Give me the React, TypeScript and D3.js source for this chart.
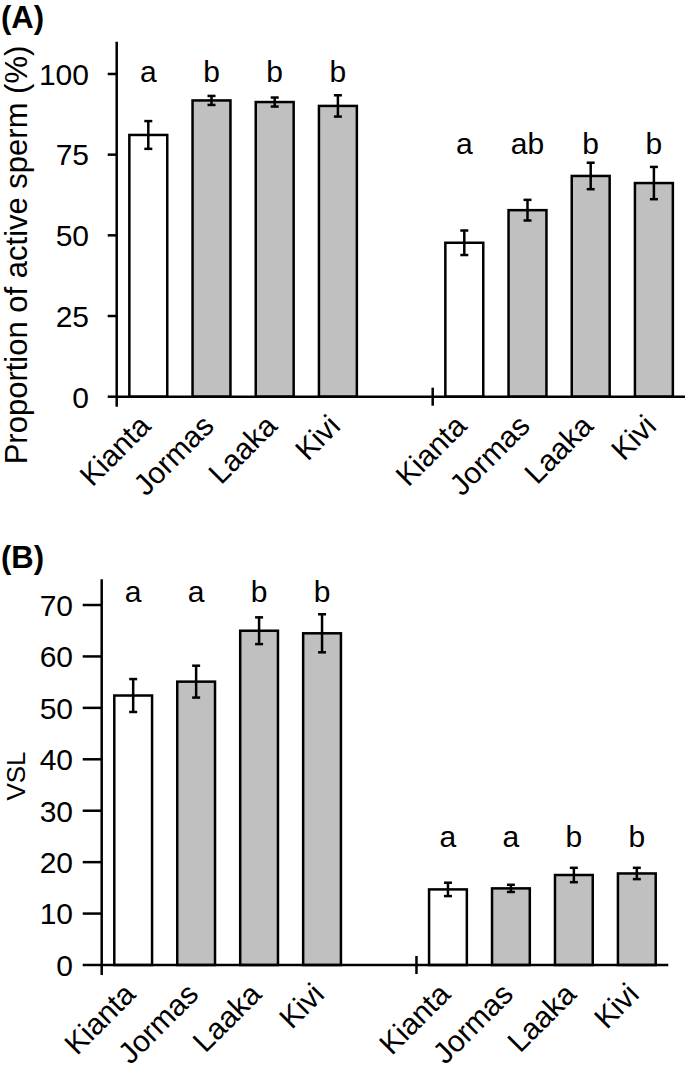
import React from "react";
import * as d3 from "d3";

// sites, in the order they appear in each group
const sites = ["Kianta", "Jormas", "Laaka", "Kivi"];

// (A) proportion of active sperm (%)
const activeLeft = [81.1, 91.8, 91.3, 90.1];
const activeLeftErr = [4.3, 1.4, 1.4, 3.3];
const activeRight = [47.7, 57.8, 68.4, 66.2];
const activeRightErr = [3.8, 3.2, 4.1, 5.0];
const activeLeftLetters = ["a", "b", "b", "b"];
const activeRightLetters = ["a", "ab", "b", "b"];
const activeTicks = [0, 25, 50, 75, 100];

// (B) VSL
const vslLeft = [52.4, 55.1, 65.0, 64.5];
const vslLeftErr = [3.2, 3.1, 2.6, 3.7];
const vslRight = [14.7, 14.9, 17.5, 17.8];
const vslRightErr = [1.3, 0.7, 1.4, 1.1];
const vslLeftLetters = ["a", "a", "b", "b"];
const vslRightLetters = ["a", "a", "b", "b"];
const vslTicks = [0, 10, 20, 30, 40, 50, 60, 70];

const FONT = "'Liberation Sans', Arial, sans-serif";
const GREY = "#c0c0c0";
const FS = 30;
const SW = 2.5;

// slot keys: 4 bars, an empty slot, 4 bars
const slots = [
  ...sites.map((s) => "L-" + s),
  "gap",
  ...sites.map((s) => "R-" + s),
];

interface PanelProps {
  tag: string;
  tagY: number;
  title: string;
  titleX: number;
  titleY: number;
  titleSize: number;
  yMax: number;
  ticks: number[];
  left: number[];
  leftErr: number[];
  right: number[];
  rightErr: number[];
  leftLetters: string[];
  rightLetters: string[];
  leftLetterAt: number;
  rightLetterAt: number;
  x0: number;
  x1: number;
  yTop: number;
  yBottom: number;
  tickLen: number;
  labelX: number;
}

const Panel: React.FC<PanelProps> = (p) => {
  const x = d3
    .scaleBand<string>()
    .domain(slots)
    .range([p.x0, p.x1])
    .paddingInner(0.4)
    .paddingOuter(0.2);
  const y = d3.scaleLinear().domain([0, p.yMax]).range([p.yBottom, p.yTop]);
  const step = x.step();
  const bw = x.bandwidth();

  const bars = [
    ...sites.map((s, i) => ({
      key: "L-" + s,
      name: s,
      v: p.left[i],
      e: p.leftErr[i],
      letter: p.leftLetters[i],
      ly: p.leftLetterAt,
      fill: i === 0 ? "#fff" : GREY,
    })),
    ...sites.map((s, i) => ({
      key: "R-" + s,
      name: s,
      v: p.right[i],
      e: p.rightErr[i],
      letter: p.rightLetters[i],
      ly: p.rightLetterAt,
      fill: i === 0 ? "#fff" : GREY,
    })),
  ];

  const base = y(0);
  const gapTick = p.x0 + step * 5;

  return (
    <g fontFamily={FONT}>
      <text x={1} y={p.tagY} fontSize={31} fontWeight="bold">
        {p.tag}
      </text>
      <text
        transform={`translate(${p.titleX},${p.titleY}) rotate(-90)`}
        textAnchor="middle"
        fontSize={p.titleSize}
      >
        {p.title}
      </text>

      {/* y axis */}
      <line x1={p.x0} x2={p.x0} y1={p.yTop} y2={base + 10} stroke="#000" strokeWidth={SW} />
      {p.ticks.map((t) => (
        <g key={t}>
          <line
            x1={p.x0 - p.tickLen}
            x2={p.x0}
            y1={y(t)}
            y2={y(t)}
            stroke="#000"
            strokeWidth={SW}
          />
          <text x={p.labelX} y={y(t)} dy="0.36em" textAnchor="end" fontSize={FS}>
            {t}
          </text>
        </g>
      ))}

      {/* bars */}
      {bars.map((b) => {
        const cx = (x(b.key) as number) + bw / 2;
        return (
          <g key={b.key}>
            <rect
              x={x(b.key)}
              y={y(b.v)}
              width={bw}
              height={base - y(b.v)}
              fill={b.fill}
              stroke="#000"
              strokeWidth={SW}
            />
            <line x1={cx} x2={cx} y1={y(b.v + b.e)} y2={y(b.v - b.e)} stroke="#000" strokeWidth={SW} />
            <line x1={cx - 4} x2={cx + 4} y1={y(b.v + b.e)} y2={y(b.v + b.e)} stroke="#000" strokeWidth={SW} />
            <line x1={cx - 4} x2={cx + 4} y1={y(b.v - b.e)} y2={y(b.v - b.e)} stroke="#000" strokeWidth={SW} />
            <text x={cx} y={y(b.ly)} textAnchor="middle" fontSize={FS}>
              {b.letter}
            </text>
            <text
              transform={`translate(${cx + 4},${base + 31}) rotate(-45)`}
              textAnchor="end"
              fontSize={FS}
            >
              {b.name}
            </text>
          </g>
        );
      })}

      {/* x axis */}
      <line x1={p.x0} x2={p.x1} y1={base} y2={base} stroke="#000" strokeWidth={SW} />
      <line x1={gapTick} x2={gapTick} y1={base - 9} y2={base + 9} stroke="#000" strokeWidth={SW} />
    </g>
  );
};

export default function App() {
  return (
    <>
      <style>{`body{margin:0;background:#fff}`}</style>
      <svg width={685} height={1073} style={{ display: "block" }}>
        <rect width={685} height={1073} fill="#fff" />
        <Panel
          tag="(A)"
          tagY={28}
          title="Proportion of active sperm (%)"
          titleX={27}
          titleY={255}
          titleSize={31}
          yMax={110}
          ticks={activeTicks}
          left={activeLeft}
          leftErr={activeLeftErr}
          right={activeRight}
          rightErr={activeRightErr}
          leftLetters={activeLeftLetters}
          rightLetters={activeRightLetters}
          leftLetterAt={97.6}
          rightLetterAt={75.2}
          x0={116.7}
          x1={685.5}
          yTop={41.7}
          yBottom={396.7}
          tickLen={9}
          labelX={89}
        />
        <Panel
          tag="(B)"
          tagY={568}
          title="VSL"
          titleX={25}
          titleY={776}
          titleSize={26}
          yMax={75}
          ticks={vslTicks}
          left={vslLeft}
          leftErr={vslLeftErr}
          right={vslRight}
          rightErr={vslRightErr}
          leftLetters={vslLeftLetters}
          rightLetters={vslRightLetters}
          leftLetterAt={70.6}
          rightLetterAt={22.9}
          x0={101.7}
          x1={668.3}
          yTop={579.3}
          yBottom={965}
          tickLen={19}
          labelX={73}
        />
      </svg>
    </>
  );
}
